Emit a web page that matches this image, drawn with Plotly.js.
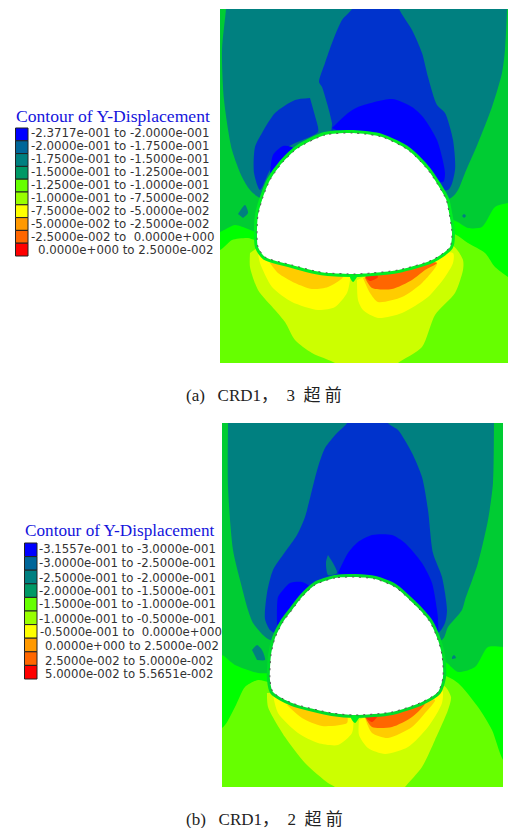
<!DOCTYPE html>
<html><head><meta charset="utf-8">
<script src="https://cdn.plot.ly/plotly-3.0.1.min.js"></script>
<style>html,body{margin:0;padding:0;background:#fff}</style></head>
<body><div id="chart" style="width:508px;height:828px"></div>
<script>
// Band colours
const BLUE='#0000ff',DBLUE='#0033cc',TEAL='#008080',MGREEN='#00cc33',GREEN='#00ff00',LIME='#66ff00',LYEL='#ccff00',YEL='#ffff00',OY='#ffcc00',ORG='#ff6600',RED='#ff3300';

// Panel (a): contour band outlines
const aLime=[[220,9],[508,9],[508,363],[220,363]];
const aGreen=[[190,-20],[190,252],[220,250],[232,240],[248,238],[255,240],[350,230],[452,233],[468,243],[485,253],[495,267],[508,277],[530,295],[530,-20]];
const aMGreen=[[190,-20],[190,240],[220,232],[235,225],[248,229],[257,232],[350,225],[453,220],[468,228],[482,227],[495,207],[508,203],[530,200],[530,-20]];
const aTeal=[[228,-20],[226,9],[222,50],[224,100],[232,150],[242,177],[250,190],[260,198],[350,215],[451,198],[458,190],[465,173],[478,143],[492,107],[502,73],[505,50],[507,9],[507,-20]];
const aTealBlobL=[[238,214],[245,205],[248,213],[243,218]];
const aTealBlobR=[[462,216],[464,214],[466,216],[464,218]];
const aDBlue=[[358,-10],[352,9],[342,20],[332,43],[325,63],[319,82],[322,87],[332,123],[332,132],[390,170],[448,190],[455,170],[453,140],[445,113],[437,105],[428,77],[422,53],[412,30],[399,9],[393,-10]];
const aDBlueL=[[310,98],[295,100],[275,113],[262,133],[255,147],[254,173],[260,190],[270,170],[288,147],[318,132],[317,123]];
const aBlue=[[332,128],[348,113],[358,107],[392,99],[412,107],[423,117],[437,140],[445,173],[443,182],[380,150]];
const aBlueL=[[270,173],[273,155],[283,146],[293,148],[285,165]];
const aLYel=[[250,253],[250,267],[258,290],[275,310],[285,322],[295,340],[312,353],[335,363],[345,372],[388,372],[398,363],[422,347],[435,315],[455,293],[463,270],[463,260],[452,245],[350,240],[257,248]];
const aYelL=[[258,253],[260,263],[272,287],[292,302],[318,310],[335,307],[347,293],[350,280],[350,265]];
const aYelR=[[357,280],[358,300],[363,310],[378,318],[402,313],[428,297],[445,277],[453,263],[453,253],[400,262]];
const aOYL=[[270,263],[278,273],[295,283],[312,289],[328,287],[343,277],[340,265],[305,262]];
const aOYR=[[363,278],[370,293],[378,302],[402,297],[422,283],[437,263],[400,262]];
const aOrg=[[365,278],[372,288],[392,289],[412,280],[425,270],[437,263],[400,262]];
const aRed=[[365,277],[370,281],[378,277],[372,270]];
const aNotch=[[353,274],[350,277],[353,282],[357,277]];
const aHole=[[353,133],[325,135],[298,148],[282,163],[270,180],[263,197],[258,215],[257,235],[258,247],[265,257],[292,265],[315,271],[328,273],[355,274],[372,273],[398,270],[432,260],[450,247],[452,233],[448,207],[446,199],[428,170],[408,150],[382,137],[353,133]];

// Panel (b): contour band outlines
const bLime=[[222,423],[503,423],[503,787],[222,787]];
const bGreen=[[190,400],[190,730],[222,728],[235,707],[245,687],[258,680],[270,682],[350,670],[443,675],[458,683],[478,707],[492,730],[503,760],[530,795],[530,400]];
const bMGreen=[[190,400],[190,650],[222,655],[235,665],[258,673],[270,673],[350,665],[442,660],[458,672],[475,667],[488,647],[503,647],[530,647],[530,400]];
const bTeal=[[228,400],[228,423],[228,487],[233,550],[240,580],[248,610],[253,623],[263,635],[270,640],[350,650],[442,640],[448,627],[462,610],[465,600],[478,563],[488,520],[493,483],[494,423],[494,400]];
const bTealBlobL=[[252,650],[257,645],[262,650],[265,660],[257,660]];
const bTealBlobR=[[452,657],[454,655],[456,658],[452,659]];
const bDBlue=[[352,400],[347,423],[337,433],[325,448],[318,467],[312,490],[305,517],[297,535],[285,552],[273,570],[267,593],[265,619],[270,630],[275,633],[350,640],[438,633],[445,623],[447,610],[442,577],[433,553],[428,510],[422,477],[412,453],[398,430],[388,423],[383,400]];
const bTealSliver=[[328,555],[326,562],[328,575],[337,573],[333,563]];
const bBlue=[[338,573],[348,553],[358,542],[372,535],[392,535],[405,543],[422,563],[432,583],[437,610],[438,620],[437,635],[400,620]];
const bBlueL=[[277,625],[278,597],[283,590],[290,583],[302,582],[310,587],[300,610]];
const bLYel=[[267,693],[268,707],[285,737],[305,763],[328,783],[335,787],[345,800],[395,800],[405,787],[422,767],[435,740],[448,710],[451,697],[443,685],[350,690]];
const bYelL=[[273,695],[278,713],[298,733],[318,743],[338,745],[352,733],[353,720],[340,700]];
const bYelR=[[359,720],[359,735],[368,748],[385,754],[408,747],[428,727],[442,703],[442,690],[400,700]];
const bOYL=[[287,705],[302,718],[322,726],[347,723],[347,716],[310,700]];
const bOYR=[[365,718],[372,733],[388,738],[412,727],[425,713],[435,700],[400,700]];
const bOrg=[[365,717],[372,727],[392,727],[412,717],[425,703],[400,700]];
const bRed=[[365,717],[372,722],[378,715],[370,712]];
const bNotch=[[355,713],[351,718],[355,723],[359,718]];
const bHole=[[355,577],[335,578],[315,585],[302,597],[292,610],[283,622],[275,638],[271,655],[270,680],[273,692],[292,703],[332,713],[355,715],[392,712],[422,702],[438,692],[443,677],[442,655],[438,640],[430,622],[420,610],[415,605],[395,587],[375,579],[355,577]];

// Legends
const legendColors=['#0000ff','#006699','#008080','#009966','#66ff00','#99ff00','#ffff00','#ff9900','#ff6600','#ff0000'];
const aLegendTitle='Contour of Y-Displacement';
const aLegendLabels=['-2.3717e-001 to -2.0000e-001','-2.0000e-001 to -1.7500e-001','-1.7500e-001 to -1.5000e-001','-1.5000e-001 to -1.2500e-001','-1.2500e-001 to -1.0000e-001','-1.0000e-001 to -7.5000e-002','-7.5000e-002 to -5.0000e-002','-5.0000e-002 to -2.5000e-002','-2.5000e-002 to \u00a00.0000e+000','0.0000e+000 to 2.5000e-002'];
const aLabelX=[30,30,30,30,30,30,30,30,30,37];
const aLabelY=[133,146,159,172,185,198,211,224,237,250];
const aSwatchY=[134.4,147.2,160,172.8,185.6,198.4,211.2,224,236.8,249.6];
const bLegendTitle='Contour of Y-Displacement';
const bLegendLabels=['-3.1557e-001 to -3.0000e-001','-3.0000e-001 to -2.5000e-001','-2.5000e-001 to -2.0000e-001','-2.0000e-001 to -1.5000e-001','-1.5000e-001 to -1.0000e-001','-1.0000e-001 to -0.5000e-001','-0.5000e-001 to \u00a00.0000e+000','0.0000e+000 to 2.5000e-002','2.5000e-002 to 5.0000e-002','5.0000e-002 to 5.5651e-002'];
const bLabelX=[38,38,38,38,38,38,39,44,44,44];
const bLabelY=[549.3,563.3,577.7,591,604.3,618.7,631.7,646,661,673.7];
const bSwatchY=[549.8,563.4,577,590.6,604.2,617.8,631.4,645,658.6,672.2];
const captionA='(a)\u00a0\u00a0\u00a0CRD1，\u00a0\u00a03\u00a0\u00a0超\u00a0前';
const captionB='(b)\u00a0\u00a0\u00a0CRD1，\u00a0\u00a02\u00a0\u00a0超\u00a0前';

function band(pts,color,ax,straight){return {type:'scatter',mode:'lines',x:pts.map(p=>p[0]),y:pts.map(p=>p[1]),fill:'toself',fillcolor:color,line:{width:0,color:color,shape:straight?'linear':'spline',smoothing:0.7},xaxis:ax[0],yaxis:ax[1],hoverinfo:'skip',showlegend:false};}
function rim(pts,color,ax){return {type:'scatter',mode:'lines',x:pts.map(p=>p[0]),y:pts.map(p=>p[1]),line:{width:6,color:color,shape:'spline',smoothing:0.7},xaxis:ax[0],yaxis:ax[1],hoverinfo:'skip',showlegend:false};}
function hole(pts,ax){return {type:'scatter',mode:'lines',x:pts.map(p=>p[0]),y:pts.map(p=>p[1]),fill:'toself',fillcolor:'#ffffff',line:{width:1,color:'#555555',dash:'2px,5px',shape:'spline',smoothing:0.7},xaxis:ax[0],yaxis:ax[1],hoverinfo:'skip',showlegend:false};}
function swatches(ys,left,w,h){return {type:'bar',orientation:'h',y:ys,x:ys.map(()=>w),base:ys.map(()=>left),width:ys.map(()=>h),marker:{color:legendColors,line:{color:'#222222',width:1}},xaxis:'x3',yaxis:'y3',hoverinfo:'skip',showlegend:false};}

const A=['x','y'],B=['x2','y2'];
const data=[
 band(aLime,LIME,A,true),band(aGreen,GREEN,A),band(aMGreen,MGREEN,A),band(aTeal,TEAL,A),band(aTealBlobL,TEAL,A),band(aTealBlobR,TEAL,A),
 band(aDBlue,DBLUE,A),band(aDBlueL,DBLUE,A),band(aBlue,BLUE,A),band(aBlueL,BLUE,A),
 band(aLYel,LYEL,A),band(aYelL,YEL,A),band(aYelR,YEL,A),band(aOYL,OY,A),band(aOYR,OY,A),band(aOrg,ORG,A),band(aRed,RED,A),
 rim(aHole,'#00ee22',A),band(aNotch,'#00ee22',A),hole(aHole,A),
 band(bLime,LIME,B,true),band(bGreen,GREEN,B),band(bMGreen,MGREEN,B),band(bTeal,TEAL,B),band(bTealBlobL,TEAL,B),band(bTealBlobR,TEAL,B),
 band(bDBlue,DBLUE,B),band(bTealSliver,TEAL,B),band(bBlue,BLUE,B),band(bBlueL,BLUE,B),
 band(bLYel,LYEL,B),band(bYelL,YEL,B),band(bYelR,YEL,B),band(bOYL,OY,B),band(bOYR,OY,B),band(bOrg,ORG,B),band(bRed,RED,B),
 rim(bHole,'#00dd2a',B),band(bNotch,'#00ee22',B),hole(bHole,B),
 swatches(aSwatchY,15.5,12.5,12.8),swatches(bSwatchY,24.5,12.5,13.6)
];

const W=508,H=828;
function hidden(extra){return Object.assign({visible:false,fixedrange:true,showgrid:false,zeroline:false},extra);}
const annotations=[];
function txt(x,y,text,size,color,family,anchor){annotations.push({xref:'x3',yref:'y3',x:x,y:y,text:text,showarrow:false,xanchor:anchor||'left',yanchor:'middle',borderpad:0,font:{size:size,color:color,family:family}});}
const sans='DejaVu Sans',serif='Liberation Serif',cap='"Liberation Serif","Noto Sans CJK SC"';
txt(15,116,aLegendTitle,17.6,'#1414dc',serif);
aLegendLabels.forEach((t,i)=>txt(aLabelX[i],aLabelY[i],t,11.8,'#333333',sans));
txt(24,530.5,bLegendTitle,17.2,'#1414dc',serif);
bLegendLabels.forEach((t,i)=>txt(bLabelX[i],bLabelY[i],t,11.7,'#333333',sans));
txt(185,395,captionA,17,'#222222',cap);
txt(185,819,captionB,17,'#222222',cap);

const layout={width:W,height:H,margin:{l:0,r:0,t:0,b:0,pad:0},paper_bgcolor:'#fff',plot_bgcolor:'rgba(0,0,0,0)',hovermode:false,barmode:'overlay',
 xaxis:hidden({domain:[220/W,1],range:[220,508],anchor:'y'}),
 yaxis:hidden({domain:[1-363/H,1-9/H],range:[363,9],anchor:'x'}),
 xaxis2:hidden({domain:[222/W,503/W],range:[222,503],anchor:'y2'}),
 yaxis2:hidden({domain:[1-787/H,1-423/H],range:[787,423],anchor:'x2'}),
 xaxis3:hidden({domain:[0,1],range:[0,W],anchor:'y3'}),
 yaxis3:hidden({domain:[0,1],range:[H,0],anchor:'x3'}),
 annotations:annotations};
Plotly.newPlot('chart',data,layout,{displayModeBar:false,staticPlot:true});
</script></body></html>
